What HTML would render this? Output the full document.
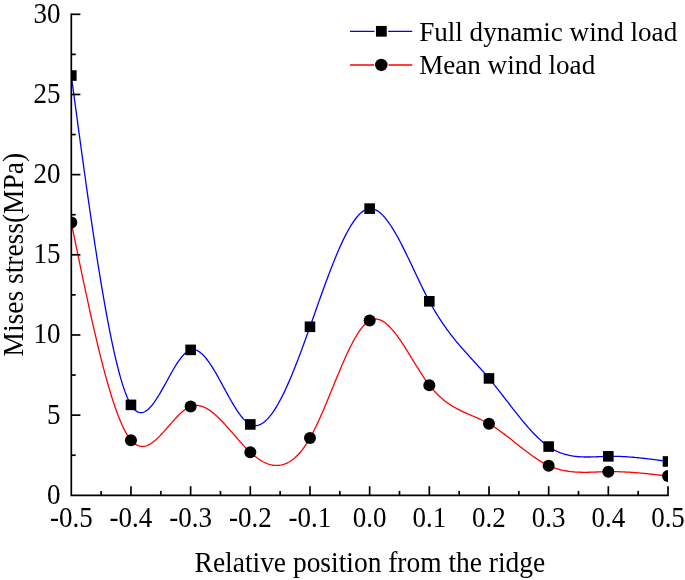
<!DOCTYPE html>
<html><head><meta charset="utf-8"><style>
html,body{margin:0;padding:0;background:#fff;}
body{width:685px;height:580px;overflow:hidden;}
svg{display:block;font-family:"Liberation Serif",serif;will-change:transform;}
</style></head><body>
<svg width="685" height="580" viewBox="0 0 685 580">
<defs><clipPath id="c"><rect x="71.30" y="0" width="596.70" height="495.30"/></clipPath></defs>
<g clip-path="url(#c)">
<path d="M71.30,75.55 L72.30,82.97 L73.29,90.38 L74.29,97.80 L75.28,105.20 L76.28,112.58 L77.28,119.96 L78.27,127.31 L79.27,134.64 L80.27,141.94 L81.26,149.22 L82.26,156.46 L83.25,163.67 L84.25,170.84 L85.25,177.97 L86.24,185.05 L87.24,192.09 L88.23,199.07 L89.23,206.00 L90.23,212.87 L91.22,219.68 L92.22,226.42 L93.22,233.10 L94.21,239.71 L95.21,246.24 L96.20,252.70 L97.20,259.07 L98.20,265.36 L99.19,271.57 L100.19,277.68 L101.18,283.70 L102.18,289.63 L103.18,295.45 L104.17,301.18 L105.17,306.79 L106.17,312.30 L107.16,317.69 L108.16,322.97 L109.15,328.13 L110.15,333.17 L111.15,338.08 L112.14,342.87 L113.14,347.52 L114.13,352.03 L115.13,356.41 L116.13,360.65 L117.12,364.74 L118.12,368.69 L119.12,372.48 L120.11,376.12 L121.11,379.60 L122.10,382.92 L123.10,386.08 L124.10,389.06 L125.09,391.88 L126.09,394.53 L127.08,397.00 L128.08,399.28 L129.08,401.39 L130.07,403.31 L131.07,405.04 L132.07,406.57 L133.06,407.92 L134.06,409.09 L135.05,410.09 L136.05,410.91 L137.05,411.57 L138.04,412.06 L139.04,412.41 L140.04,412.60 L141.03,412.65 L142.03,412.56 L143.02,412.34 L144.02,411.99 L145.02,411.52 L146.01,410.93 L147.01,410.22 L148.00,409.41 L149.00,408.51 L150.00,407.50 L150.99,406.40 L151.99,405.22 L152.99,403.96 L153.98,402.63 L154.98,401.22 L155.97,399.76 L156.97,398.23 L157.97,396.65 L158.96,395.02 L159.96,393.36 L160.95,391.65 L161.95,389.91 L162.95,388.15 L163.94,386.36 L164.94,384.56 L165.94,382.75 L166.93,380.94 L167.93,379.12 L168.92,377.31 L169.92,375.52 L170.92,373.73 L171.91,371.97 L172.91,370.24 L173.90,368.54 L174.90,366.88 L175.90,365.26 L176.89,363.69 L177.89,362.18 L178.89,360.72 L179.88,359.33 L180.88,358.01 L181.87,356.76 L182.87,355.60 L183.87,354.52 L184.86,353.53 L185.86,352.64 L186.85,351.85 L187.85,351.17 L188.85,350.60 L189.84,350.15 L190.84,349.82 L191.84,349.62 L192.83,349.54 L193.83,349.59 L194.82,349.74 L195.82,350.01 L196.82,350.39 L197.81,350.87 L198.81,351.45 L199.80,352.13 L200.80,352.90 L201.80,353.76 L202.79,354.70 L203.79,355.73 L204.79,356.83 L205.78,358.00 L206.78,359.25 L207.77,360.56 L208.77,361.93 L209.77,363.36 L210.76,364.85 L211.76,366.38 L212.75,367.96 L213.75,369.59 L214.75,371.25 L215.74,372.95 L216.74,374.67 L217.74,376.43 L218.73,378.21 L219.73,380.01 L220.72,381.82 L221.72,383.65 L222.72,385.48 L223.71,387.32 L224.71,389.16 L225.70,391.00 L226.70,392.83 L227.70,394.65 L228.69,396.45 L229.69,398.23 L230.69,399.99 L231.68,401.73 L232.68,403.43 L233.67,405.11 L234.67,406.74 L235.67,408.33 L236.66,409.87 L237.66,411.37 L238.65,412.81 L239.65,414.20 L240.65,415.52 L241.64,416.78 L242.64,417.97 L243.64,419.09 L244.63,420.14 L245.63,421.10 L246.62,421.98 L247.62,422.77 L248.62,423.47 L249.61,424.07 L250.61,424.57 L251.61,424.98 L252.60,425.28 L253.60,425.48 L254.59,425.59 L255.59,425.60 L256.59,425.52 L257.58,425.35 L258.58,425.09 L259.57,424.73 L260.57,424.29 L261.57,423.77 L262.56,423.16 L263.56,422.46 L264.56,421.69 L265.55,420.84 L266.55,419.90 L267.54,418.90 L268.54,417.81 L269.54,416.66 L270.53,415.43 L271.53,414.13 L272.52,412.77 L273.52,411.34 L274.52,409.84 L275.51,408.28 L276.51,406.65 L277.51,404.97 L278.50,403.22 L279.50,401.42 L280.49,399.56 L281.49,397.65 L282.49,395.69 L283.48,393.67 L284.48,391.61 L285.47,389.50 L286.47,387.34 L287.47,385.13 L288.46,382.88 L289.46,380.59 L290.46,378.27 L291.45,375.90 L292.45,373.49 L293.44,371.05 L294.44,368.58 L295.44,366.07 L296.43,363.53 L297.43,360.97 L298.42,358.37 L299.42,355.75 L300.42,353.11 L301.41,350.44 L302.41,347.75 L303.41,345.04 L304.40,342.32 L305.40,339.58 L306.39,336.82 L307.39,334.05 L308.39,331.26 L309.38,328.47 L310.38,325.67 L311.37,322.86 L312.37,320.04 L313.37,317.23 L314.36,314.41 L315.36,311.59 L316.36,308.77 L317.35,305.96 L318.35,303.15 L319.34,300.35 L320.34,297.55 L321.34,294.77 L322.33,292.00 L323.33,289.25 L324.32,286.51 L325.32,283.79 L326.32,281.09 L327.31,278.41 L328.31,275.75 L329.31,273.12 L330.30,270.52 L331.30,267.94 L332.29,265.39 L333.29,262.88 L334.29,260.40 L335.28,257.95 L336.28,255.55 L337.27,253.18 L338.27,250.85 L339.27,248.56 L340.26,246.32 L341.26,244.13 L342.26,241.98 L343.25,239.89 L344.25,237.84 L345.24,235.85 L346.24,233.92 L347.24,232.04 L348.23,230.22 L349.23,228.46 L350.22,226.76 L351.22,225.12 L352.22,223.55 L353.21,222.05 L354.21,220.62 L355.21,219.26 L356.20,217.97 L357.20,216.76 L358.19,215.63 L359.19,214.57 L360.19,213.59 L361.18,212.69 L362.18,211.88 L363.17,211.15 L364.17,210.51 L365.17,209.96 L366.16,209.50 L367.16,209.13 L368.16,208.86 L369.15,208.68 L370.15,208.60 L371.14,208.61 L372.14,208.72 L373.14,208.93 L374.13,209.22 L375.13,209.61 L376.13,210.08 L377.12,210.63 L378.12,211.27 L379.11,211.99 L380.11,212.78 L381.11,213.65 L382.10,214.59 L383.10,215.61 L384.09,216.69 L385.09,217.84 L386.09,219.05 L387.08,220.33 L388.08,221.66 L389.08,223.06 L390.07,224.50 L391.07,226.00 L392.06,227.56 L393.06,229.16 L394.06,230.80 L395.05,232.50 L396.05,234.23 L397.04,236.00 L398.04,237.81 L399.04,239.66 L400.03,241.54 L401.03,243.45 L402.03,245.39 L403.02,247.36 L404.02,249.35 L405.01,251.36 L406.01,253.39 L407.01,255.45 L408.00,257.51 L409.00,259.59 L409.99,261.68 L410.99,263.78 L411.99,265.89 L412.98,268.00 L413.98,270.11 L414.98,272.22 L415.97,274.33 L416.97,276.44 L417.96,278.54 L418.96,280.63 L419.96,282.71 L420.95,284.77 L421.95,286.82 L422.94,288.86 L423.94,290.87 L424.94,292.86 L425.93,294.82 L426.93,296.76 L427.93,298.67 L428.92,300.55 L429.92,302.40 L430.91,304.21 L431.91,305.99 L432.91,307.74 L433.90,309.46 L434.90,311.14 L435.89,312.80 L436.89,314.43 L437.89,316.02 L438.88,317.60 L439.88,319.14 L440.88,320.66 L441.87,322.15 L442.87,323.62 L443.86,325.06 L444.86,326.49 L445.86,327.89 L446.85,329.27 L447.85,330.62 L448.84,331.96 L449.84,333.28 L450.84,334.58 L451.83,335.86 L452.83,337.13 L453.83,338.38 L454.82,339.62 L455.82,340.84 L456.81,342.04 L457.81,343.24 L458.81,344.42 L459.80,345.59 L460.80,346.75 L461.79,347.90 L462.79,349.04 L463.79,350.18 L464.78,351.30 L465.78,352.42 L466.78,353.53 L467.77,354.64 L468.77,355.75 L469.76,356.84 L470.76,357.94 L471.76,359.04 L472.75,360.13 L473.75,361.22 L474.74,362.31 L475.74,363.41 L476.74,364.50 L477.73,365.60 L478.73,366.70 L479.73,367.81 L480.72,368.92 L481.72,370.03 L482.71,371.15 L483.71,372.28 L484.71,373.42 L485.70,374.57 L486.70,375.72 L487.69,376.89 L488.69,378.06 L489.69,379.25 L490.68,380.45 L491.68,381.66 L492.68,382.88 L493.67,384.11 L494.67,385.35 L495.66,386.59 L496.66,387.85 L497.66,389.11 L498.65,390.37 L499.65,391.65 L500.65,392.92 L501.64,394.20 L502.64,395.49 L503.63,396.77 L504.63,398.06 L505.63,399.35 L506.62,400.64 L507.62,401.93 L508.61,403.22 L509.61,404.51 L510.61,405.80 L511.60,407.08 L512.60,408.36 L513.60,409.64 L514.59,410.91 L515.59,412.17 L516.58,413.43 L517.58,414.69 L518.58,415.93 L519.57,417.17 L520.57,418.40 L521.56,419.61 L522.56,420.82 L523.56,422.02 L524.55,423.21 L525.55,424.38 L526.55,425.54 L527.54,426.69 L528.54,427.82 L529.53,428.94 L530.53,430.04 L531.53,431.12 L532.52,432.19 L533.52,433.24 L534.51,434.28 L535.51,435.29 L536.51,436.28 L537.50,437.26 L538.50,438.21 L539.50,439.14 L540.49,440.05 L541.49,440.93 L542.48,441.79 L543.48,442.63 L544.48,443.44 L545.47,444.23 L546.47,444.99 L547.46,445.72 L548.46,446.42 L549.46,447.10 L550.45,447.74 L551.45,448.36 L552.45,448.96 L553.44,449.52 L554.44,450.06 L555.43,450.58 L556.43,451.07 L557.43,451.53 L558.42,451.97 L559.42,452.39 L560.41,452.79 L561.41,453.16 L562.41,453.51 L563.40,453.85 L564.40,454.16 L565.40,454.45 L566.39,454.72 L567.39,454.97 L568.38,455.21 L569.38,455.43 L570.38,455.63 L571.37,455.81 L572.37,455.98 L573.36,456.14 L574.36,456.28 L575.36,456.40 L576.35,456.51 L577.35,456.61 L578.35,456.70 L579.34,456.77 L580.34,456.84 L581.33,456.89 L582.33,456.93 L583.33,456.96 L584.32,456.99 L585.32,457.00 L586.31,457.01 L587.31,457.01 L588.31,457.01 L589.30,456.99 L590.30,456.98 L591.30,456.95 L592.29,456.93 L593.29,456.89 L594.28,456.86 L595.28,456.82 L596.28,456.78 L597.27,456.74 L598.27,456.70 L599.26,456.66 L600.26,456.61 L601.26,456.57 L602.25,456.53 L603.25,456.49 L604.25,456.45 L605.24,456.42 L606.24,456.39 L607.23,456.36 L608.23,456.34 L609.23,456.32 L610.22,456.31 L611.22,456.31 L612.22,456.30 L613.21,456.31 L614.21,456.32 L615.20,456.33 L616.20,456.35 L617.20,456.37 L618.19,456.40 L619.19,456.43 L620.18,456.46 L621.18,456.50 L622.18,456.54 L623.17,456.59 L624.17,456.64 L625.17,456.70 L626.16,456.76 L627.16,456.82 L628.15,456.89 L629.15,456.96 L630.15,457.03 L631.14,457.11 L632.14,457.19 L633.13,457.27 L634.13,457.35 L635.13,457.44 L636.12,457.53 L637.12,457.63 L638.12,457.73 L639.11,457.83 L640.11,457.93 L641.10,458.03 L642.10,458.14 L643.10,458.25 L644.09,458.36 L645.09,458.48 L646.08,458.59 L647.08,458.71 L648.08,458.83 L649.07,458.95 L650.07,459.07 L651.07,459.20 L652.06,459.32 L653.06,459.45 L654.05,459.58 L655.05,459.71 L656.05,459.84 L657.04,459.97 L658.04,460.11 L659.03,460.24 L660.03,460.37 L661.03,460.51 L662.02,460.65 L663.02,460.78 L664.02,460.92 L665.01,461.06 L666.01,461.19 L667.00,461.33 L668.00,461.47" fill="none" stroke="#0000ff" stroke-width="1.3"/>
<path d="M71.30,222.57 L72.30,227.43 L73.29,232.29 L74.29,237.14 L75.28,241.98 L76.28,246.82 L77.28,251.64 L78.27,256.46 L79.27,261.26 L80.27,266.04 L81.26,270.81 L82.26,275.55 L83.25,280.27 L84.25,284.97 L85.25,289.64 L86.24,294.28 L87.24,298.89 L88.23,303.47 L89.23,308.02 L90.23,312.52 L91.22,316.99 L92.22,321.42 L93.22,325.80 L94.21,330.14 L95.21,334.43 L96.20,338.67 L97.20,342.87 L98.20,347.00 L99.19,351.09 L100.19,355.11 L101.18,359.08 L102.18,362.98 L103.18,366.82 L104.17,370.60 L105.17,374.31 L106.17,377.94 L107.16,381.51 L108.16,385.00 L109.15,388.42 L110.15,391.76 L111.15,395.02 L112.14,398.20 L113.14,401.29 L114.13,404.30 L115.13,407.21 L116.13,410.04 L117.12,412.78 L118.12,415.42 L119.12,417.97 L120.11,420.42 L121.11,422.76 L122.10,425.01 L123.10,427.15 L124.10,429.18 L125.09,431.11 L126.09,432.92 L127.08,434.62 L128.08,436.21 L129.08,437.68 L130.07,439.03 L131.07,440.26 L132.07,441.37 L133.06,442.36 L134.06,443.24 L135.05,444.00 L136.05,444.65 L137.05,445.19 L138.04,445.64 L139.04,445.98 L140.04,446.22 L141.03,446.38 L142.03,446.44 L143.02,446.41 L144.02,446.31 L145.02,446.12 L146.01,445.85 L147.01,445.51 L148.00,445.10 L149.00,444.62 L150.00,444.08 L150.99,443.48 L151.99,442.82 L152.99,442.10 L153.98,441.34 L154.98,440.52 L155.97,439.66 L156.97,438.76 L157.97,437.82 L158.96,436.85 L159.96,435.84 L160.95,434.80 L161.95,433.74 L162.95,432.66 L163.94,431.56 L164.94,430.44 L165.94,429.31 L166.93,428.17 L167.93,427.02 L168.92,425.87 L169.92,424.72 L170.92,423.58 L171.91,422.44 L172.91,421.31 L173.90,420.20 L174.90,419.10 L175.90,418.02 L176.89,416.96 L177.89,415.93 L178.89,414.93 L179.88,413.97 L180.88,413.03 L181.87,412.14 L182.87,411.29 L183.87,410.49 L184.86,409.73 L185.86,409.03 L186.85,408.38 L187.85,407.79 L188.85,407.26 L189.84,406.80 L190.84,406.40 L191.84,406.08 L192.83,405.82 L193.83,405.63 L194.82,405.51 L195.82,405.45 L196.82,405.45 L197.81,405.51 L198.81,405.64 L199.80,405.82 L200.80,406.05 L201.80,406.34 L202.79,406.68 L203.79,407.07 L204.79,407.52 L205.78,408.01 L206.78,408.54 L207.77,409.12 L208.77,409.74 L209.77,410.40 L210.76,411.11 L211.76,411.85 L212.75,412.62 L213.75,413.43 L214.75,414.27 L215.74,415.15 L216.74,416.05 L217.74,416.98 L218.73,417.94 L219.73,418.92 L220.72,419.93 L221.72,420.95 L222.72,422.00 L223.71,423.06 L224.71,424.14 L225.70,425.24 L226.70,426.35 L227.70,427.47 L228.69,428.60 L229.69,429.73 L230.69,430.88 L231.68,432.03 L232.68,433.18 L233.67,434.33 L234.67,435.49 L235.67,436.64 L236.66,437.79 L237.66,438.93 L238.65,440.07 L239.65,441.20 L240.65,442.32 L241.64,443.43 L242.64,444.52 L243.64,445.60 L244.63,446.66 L245.63,447.71 L246.62,448.73 L247.62,449.74 L248.62,450.72 L249.61,451.68 L250.61,452.61 L251.61,453.51 L252.60,454.38 L253.60,455.23 L254.59,456.05 L255.59,456.83 L256.59,457.59 L257.58,458.32 L258.58,459.01 L259.57,459.67 L260.57,460.30 L261.57,460.90 L262.56,461.46 L263.56,461.99 L264.56,462.48 L265.55,462.94 L266.55,463.36 L267.54,463.74 L268.54,464.09 L269.54,464.40 L270.53,464.67 L271.53,464.90 L272.52,465.09 L273.52,465.24 L274.52,465.35 L275.51,465.42 L276.51,465.45 L277.51,465.43 L278.50,465.38 L279.50,465.27 L280.49,465.13 L281.49,464.94 L282.49,464.70 L283.48,464.42 L284.48,464.09 L285.47,463.72 L286.47,463.29 L287.47,462.82 L288.46,462.30 L289.46,461.73 L290.46,461.11 L291.45,460.44 L292.45,459.72 L293.44,458.95 L294.44,458.12 L295.44,457.25 L296.43,456.32 L297.43,455.33 L298.42,454.29 L299.42,453.20 L300.42,452.05 L301.41,450.84 L302.41,449.58 L303.41,448.26 L304.40,446.88 L305.40,445.44 L306.39,443.95 L307.39,442.39 L308.39,440.77 L309.38,439.10 L310.38,437.36 L311.37,435.56 L312.37,433.70 L313.37,431.79 L314.36,429.83 L315.36,427.81 L316.36,425.75 L317.35,423.65 L318.35,421.50 L319.34,419.31 L320.34,417.09 L321.34,414.84 L322.33,412.55 L323.33,410.24 L324.32,407.90 L325.32,405.54 L326.32,403.16 L327.31,400.76 L328.31,398.35 L329.31,395.92 L330.30,393.49 L331.30,391.05 L332.29,388.61 L333.29,386.17 L334.29,383.72 L335.28,381.29 L336.28,378.86 L337.27,376.44 L338.27,374.04 L339.27,371.65 L340.26,369.28 L341.26,366.93 L342.26,364.60 L343.25,362.30 L344.25,360.03 L345.24,357.80 L346.24,355.59 L347.24,353.43 L348.23,351.30 L349.23,349.22 L350.22,347.19 L351.22,345.20 L352.22,343.26 L353.21,341.38 L354.21,339.55 L355.21,337.79 L356.20,336.08 L357.20,334.44 L358.19,332.87 L359.19,331.37 L360.19,329.94 L361.18,328.59 L362.18,327.32 L363.17,326.12 L364.17,325.01 L365.17,323.99 L366.16,323.06 L367.16,322.22 L368.16,321.47 L369.15,320.82 L370.15,320.28 L371.14,319.83 L372.14,319.48 L373.14,319.22 L374.13,319.06 L375.13,318.99 L376.13,319.01 L377.12,319.12 L378.12,319.31 L379.11,319.58 L380.11,319.93 L381.11,320.36 L382.10,320.86 L383.10,321.43 L384.09,322.07 L385.09,322.78 L386.09,323.56 L387.08,324.39 L388.08,325.29 L389.08,326.25 L390.07,327.26 L391.07,328.32 L392.06,329.44 L393.06,330.60 L394.06,331.81 L395.05,333.06 L396.05,334.36 L397.04,335.69 L398.04,337.06 L399.04,338.46 L400.03,339.90 L401.03,341.36 L402.03,342.85 L403.02,344.37 L404.02,345.90 L405.01,347.46 L406.01,349.04 L407.01,350.63 L408.00,352.23 L409.00,353.84 L409.99,355.46 L410.99,357.09 L411.99,358.72 L412.98,360.35 L413.98,361.98 L414.98,363.61 L415.97,365.23 L416.97,366.84 L417.96,368.44 L418.96,370.02 L419.96,371.60 L420.95,373.15 L421.95,374.68 L422.94,376.19 L423.94,377.67 L424.94,379.13 L425.93,380.56 L426.93,381.95 L427.93,383.31 L428.92,384.63 L429.92,385.92 L430.91,387.16 L431.91,388.36 L432.91,389.53 L433.90,390.66 L434.90,391.75 L435.89,392.81 L436.89,393.84 L437.89,394.83 L438.88,395.79 L439.88,396.71 L440.88,397.61 L441.87,398.48 L442.87,399.32 L443.86,400.13 L444.86,400.92 L445.86,401.67 L446.85,402.41 L447.85,403.12 L448.84,403.81 L449.84,404.48 L450.84,405.12 L451.83,405.75 L452.83,406.36 L453.83,406.95 L454.82,407.52 L455.82,408.07 L456.81,408.62 L457.81,409.14 L458.81,409.66 L459.80,410.16 L460.80,410.65 L461.79,411.13 L462.79,411.60 L463.79,412.06 L464.78,412.51 L465.78,412.96 L466.78,413.40 L467.77,413.84 L468.77,414.27 L469.76,414.70 L470.76,415.13 L471.76,415.56 L472.75,415.99 L473.75,416.42 L474.74,416.85 L475.74,417.28 L476.74,417.72 L477.73,418.16 L478.73,418.61 L479.73,419.07 L480.72,419.53 L481.72,420.00 L482.71,420.48 L483.71,420.97 L484.71,421.48 L485.70,421.99 L486.70,422.52 L487.69,423.06 L488.69,423.62 L489.69,424.20 L490.68,424.79 L491.68,425.39 L492.68,426.01 L493.67,426.65 L494.67,427.30 L495.66,427.96 L496.66,428.63 L497.66,429.32 L498.65,430.01 L499.65,430.72 L500.65,431.44 L501.64,432.16 L502.64,432.90 L503.63,433.64 L504.63,434.39 L505.63,435.15 L506.62,435.92 L507.62,436.68 L508.61,437.46 L509.61,438.24 L510.61,439.02 L511.60,439.81 L512.60,440.60 L513.60,441.39 L514.59,442.18 L515.59,442.97 L516.58,443.76 L517.58,444.56 L518.58,445.35 L519.57,446.14 L520.57,446.93 L521.56,447.71 L522.56,448.49 L523.56,449.27 L524.55,450.04 L525.55,450.81 L526.55,451.57 L527.54,452.32 L528.54,453.07 L529.53,453.81 L530.53,454.54 L531.53,455.26 L532.52,455.97 L533.52,456.67 L534.51,457.36 L535.51,458.04 L536.51,458.71 L537.50,459.36 L538.50,460.00 L539.50,460.63 L540.49,461.24 L541.49,461.84 L542.48,462.42 L543.48,462.99 L544.48,463.54 L545.47,464.07 L546.47,464.58 L547.46,465.07 L548.46,465.55 L549.46,466.00 L550.45,466.43 L551.45,466.85 L552.45,467.24 L553.44,467.62 L554.44,467.98 L555.43,468.32 L556.43,468.64 L557.43,468.95 L558.42,469.24 L559.42,469.51 L560.41,469.77 L561.41,470.01 L562.41,470.24 L563.40,470.46 L564.40,470.65 L565.40,470.84 L566.39,471.01 L567.39,471.17 L568.38,471.32 L569.38,471.45 L570.38,471.57 L571.37,471.69 L572.37,471.79 L573.36,471.88 L574.36,471.96 L575.36,472.03 L576.35,472.09 L577.35,472.14 L578.35,472.19 L579.34,472.22 L580.34,472.25 L581.33,472.27 L582.33,472.29 L583.33,472.30 L584.32,472.30 L585.32,472.30 L586.31,472.29 L587.31,472.28 L588.31,472.26 L589.30,472.24 L590.30,472.21 L591.30,472.19 L592.29,472.16 L593.29,472.12 L594.28,472.09 L595.28,472.05 L596.28,472.02 L597.27,471.98 L598.27,471.94 L599.26,471.91 L600.26,471.87 L601.26,471.83 L602.25,471.80 L603.25,471.77 L604.25,471.74 L605.24,471.71 L606.24,471.69 L607.23,471.67 L608.23,471.65 L609.23,471.64 L610.22,471.63 L611.22,471.63 L612.22,471.63 L613.21,471.63 L614.21,471.64 L615.20,471.66 L616.20,471.67 L617.20,471.69 L618.19,471.72 L619.19,471.74 L620.18,471.78 L621.18,471.81 L622.18,471.85 L623.17,471.89 L624.17,471.94 L625.17,471.98 L626.16,472.03 L627.16,472.09 L628.15,472.15 L629.15,472.21 L630.15,472.27 L631.14,472.34 L632.14,472.40 L633.13,472.48 L634.13,472.55 L635.13,472.63 L636.12,472.70 L637.12,472.79 L638.12,472.87 L639.11,472.95 L640.11,473.04 L641.10,473.13 L642.10,473.22 L643.10,473.32 L644.09,473.41 L645.09,473.51 L646.08,473.61 L647.08,473.71 L648.08,473.81 L649.07,473.91 L650.07,474.02 L651.07,474.13 L652.06,474.23 L653.06,474.34 L654.05,474.45 L655.05,474.56 L656.05,474.67 L657.04,474.79 L658.04,474.90 L659.03,475.01 L660.03,475.13 L661.03,475.24 L662.02,475.36 L663.02,475.47 L664.02,475.59 L665.01,475.71 L666.01,475.83 L667.00,475.94 L668.00,476.06" fill="none" stroke="#ff0000" stroke-width="1.3"/>
<g fill="#000">
<rect x="66.00" y="70.25" width="10.6" height="10.6"/>
<rect x="125.67" y="399.57" width="10.6" height="10.6"/>
<rect x="185.34" y="344.58" width="10.6" height="10.6"/>
<rect x="245.01" y="419.13" width="10.6" height="10.6"/>
<rect x="304.68" y="321.49" width="10.6" height="10.6"/>
<rect x="364.35" y="203.32" width="10.6" height="10.6"/>
<rect x="424.02" y="296.00" width="10.6" height="10.6"/>
<rect x="483.69" y="373.12" width="10.6" height="10.6"/>
<rect x="543.36" y="441.26" width="10.6" height="10.6"/>
<rect x="603.03" y="451.04" width="10.6" height="10.6"/>
<rect x="662.70" y="456.17" width="10.6" height="10.6"/>
<circle cx="71.30" cy="222.57" r="6"/>
<circle cx="130.97" cy="440.15" r="6"/>
<circle cx="190.64" cy="406.48" r="6"/>
<circle cx="250.31" cy="452.33" r="6"/>
<circle cx="309.98" cy="438.06" r="6"/>
<circle cx="369.65" cy="320.54" r="6"/>
<circle cx="429.32" cy="385.15" r="6"/>
<circle cx="488.99" cy="423.79" r="6"/>
<circle cx="548.66" cy="465.64" r="6"/>
<circle cx="608.33" cy="471.65" r="6"/>
<circle cx="668.00" cy="476.06" r="6"/>
</g>
</g>
<g stroke="#000" stroke-width="1.7" fill="none">
<path d="M71.30,13.45 L71.30,495.30 L668.85,495.30" stroke-linejoin="miter"/>
<line x1="101.13" y1="495.30" x2="101.13" y2="490.90"/>
<line x1="130.97" y1="495.30" x2="130.97" y2="486.20"/>
<line x1="160.81" y1="495.30" x2="160.81" y2="490.90"/>
<line x1="190.64" y1="495.30" x2="190.64" y2="486.20"/>
<line x1="220.47" y1="495.30" x2="220.47" y2="490.90"/>
<line x1="250.31" y1="495.30" x2="250.31" y2="486.20"/>
<line x1="280.14" y1="495.30" x2="280.14" y2="490.90"/>
<line x1="309.98" y1="495.30" x2="309.98" y2="486.20"/>
<line x1="339.81" y1="495.30" x2="339.81" y2="490.90"/>
<line x1="369.65" y1="495.30" x2="369.65" y2="486.20"/>
<line x1="399.49" y1="495.30" x2="399.49" y2="490.90"/>
<line x1="429.32" y1="495.30" x2="429.32" y2="486.20"/>
<line x1="459.16" y1="495.30" x2="459.16" y2="490.90"/>
<line x1="488.99" y1="495.30" x2="488.99" y2="486.20"/>
<line x1="518.83" y1="495.30" x2="518.83" y2="490.90"/>
<line x1="548.66" y1="495.30" x2="548.66" y2="486.20"/>
<line x1="578.50" y1="495.30" x2="578.50" y2="490.90"/>
<line x1="608.33" y1="495.30" x2="608.33" y2="486.20"/>
<line x1="638.16" y1="495.30" x2="638.16" y2="490.90"/>
<line x1="668.00" y1="495.30" x2="668.00" y2="486.20"/>
<line x1="71.30" y1="455.22" x2="75.70" y2="455.22"/>
<line x1="71.30" y1="415.13" x2="80.40" y2="415.13"/>
<line x1="71.30" y1="375.05" x2="75.70" y2="375.05"/>
<line x1="71.30" y1="334.97" x2="80.40" y2="334.97"/>
<line x1="71.30" y1="294.88" x2="75.70" y2="294.88"/>
<line x1="71.30" y1="254.80" x2="80.40" y2="254.80"/>
<line x1="71.30" y1="214.72" x2="75.70" y2="214.72"/>
<line x1="71.30" y1="174.63" x2="80.40" y2="174.63"/>
<line x1="71.30" y1="134.55" x2="75.70" y2="134.55"/>
<line x1="71.30" y1="94.47" x2="80.40" y2="94.47"/>
<line x1="71.30" y1="54.38" x2="75.70" y2="54.38"/>
<line x1="71.30" y1="14.30" x2="80.40" y2="14.30"/>
</g>
<g fill="#000">
<text transform="translate(60.60,503.75) scale(1,1.055)" font-size="27" text-anchor="end">0</text>
<text transform="translate(60.60,423.58) scale(1,1.055)" font-size="27" text-anchor="end">5</text>
<text transform="translate(60.60,343.42) scale(1,1.055)" font-size="27" text-anchor="end">10</text>
<text transform="translate(60.60,263.25) scale(1,1.055)" font-size="27" text-anchor="end">15</text>
<text transform="translate(60.60,183.08) scale(1,1.055)" font-size="27" text-anchor="end">20</text>
<text transform="translate(60.60,102.92) scale(1,1.055)" font-size="27" text-anchor="end">25</text>
<text transform="translate(60.60,22.75) scale(1,1.055)" font-size="27" text-anchor="end">30</text>
<text transform="translate(71.30,527.10) scale(1,1.055)" font-size="27" text-anchor="middle">-0.5</text>
<text transform="translate(130.97,527.10) scale(1,1.055)" font-size="27" text-anchor="middle">-0.4</text>
<text transform="translate(190.64,527.10) scale(1,1.055)" font-size="27" text-anchor="middle">-0.3</text>
<text transform="translate(250.31,527.10) scale(1,1.055)" font-size="27" text-anchor="middle">-0.2</text>
<text transform="translate(309.98,527.10) scale(1,1.055)" font-size="27" text-anchor="middle">-0.1</text>
<text transform="translate(369.65,527.10) scale(1,1.055)" font-size="27" text-anchor="middle">0.0</text>
<text transform="translate(429.32,527.10) scale(1,1.055)" font-size="27" text-anchor="middle">0.1</text>
<text transform="translate(488.99,527.10) scale(1,1.055)" font-size="27" text-anchor="middle">0.2</text>
<text transform="translate(548.66,527.10) scale(1,1.055)" font-size="27" text-anchor="middle">0.3</text>
<text transform="translate(608.33,527.10) scale(1,1.055)" font-size="27" text-anchor="middle">0.4</text>
<text transform="translate(668.00,527.10) scale(1,1.055)" font-size="27" text-anchor="middle">0.5</text>
<text transform="translate(369.90,571.80) scale(1,1.04)" font-size="27.45" text-anchor="middle">Relative position from the ridge</text>
<text transform="translate(22.80,254.70) rotate(-90) scale(1,1.04)" font-size="27.45" text-anchor="middle">Mises stress(MPa)</text>
<text transform="translate(419.20,40.60) scale(1,1.04)" font-size="27.1" text-anchor="start">Full dynamic wind load</text>
<text transform="translate(419.20,74.40) scale(1,1.04)" font-size="27.1" text-anchor="start">Mean wind load</text>
</g>
<g stroke-width="1.35">
<path d="M350,31.3 H374.5 M388.2,31.3 H412.3" stroke="#0000ff"/>
<path d="M350,65 H374.2 M388.5,65 H412.3" stroke="#ff0000"/>
</g>
<rect x="375.95" y="25.95" width="10.8" height="10.7" fill="#000"/>
<circle cx="381.3" cy="64.95" r="6.25" fill="#000"/>
</svg>
</body></html>
